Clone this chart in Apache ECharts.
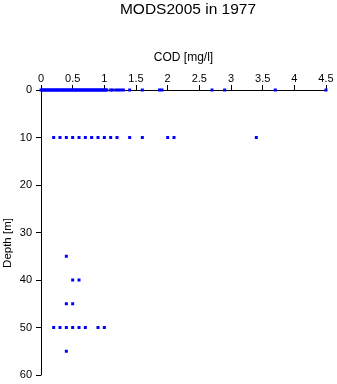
<!DOCTYPE html>
<html><head><meta charset="utf-8">
<script src="https://cdn.jsdelivr.net/npm/echarts@6/dist/echarts.min.js"></script>
<style>html,body{margin:0;padding:0;background:#fff}#c{width:337px;height:384px}</style>
</head><body><div id="c"></div>
<script>
const titleText = "MODS2005 in 1977";
const xName = "COD [mg/l]";
const yName = "Depth [m]";
const xTicks = [0, 0.5, 1, 1.5, 2, 2.5, 3, 3.5, 4, 4.5];
const yTicks = [0, 10, 20, 30, 40, 50, 60];

const cod0 = [0, 0.02, 0.04, 0.06, 0.08, 0.1, 0.12, 0.14, 0.16, 0.18, 0.2, 0.22, 0.24, 0.26, 0.28, 0.3, 0.32, 0.34, 0.36, 0.38, 0.4, 0.42, 0.44, 0.46, 0.48, 0.5, 0.52, 0.54, 0.56, 0.58, 0.6, 0.62, 0.64, 0.66, 0.68, 0.7, 0.72, 0.74, 0.76, 0.78, 0.8, 0.82, 0.84, 0.86, 0.88, 0.9, 0.92, 0.94, 0.96, 0.98, 1.0, 1.02, 1.04, 1.1, 1.13, 1.18, 1.22, 1.26, 1.3, 1.4, 1.6, 1.87, 1.91, 2.7, 2.9, 3.7, 4.5];
const cod10 = [0.2, 0.3, 0.4, 0.5, 0.6, 0.7, 0.8, 0.9, 1.0, 1.1, 1.2, 1.4, 1.6, 2.0, 2.1, 3.4];
const cod35 = [0.4];
const cod40 = [0.5, 0.6];
const cod45 = [0.4, 0.5];
const cod50 = [0.2, 0.3, 0.4, 0.5, 0.6, 0.7, 0.9, 1.0];
const cod55 = [0.4];
const depths = [0, 10, 35, 40, 45, 50, 55];
const codByDepth = [cod0, cod10, cod35, cod40, cod45, cod50, cod55];

const pts = [];
codByDepth.forEach((arr, i) => arr.forEach(v => pts.push([v, depths[i]])));

const font = "'Liberation Sans', Arial, sans-serif";
const chart = echarts.init(document.getElementById('c'));
chart.setOption({
  animation: false,
  title: { text: titleText, left: 183, textAlign: 'center', top: -3,
    textStyle: { fontFamily: font, fontSize: 15.5, fontWeight: 'normal', color: '#000' } },
  grid: { left: 41, top: 90, right: 11, bottom: 9, containLabel: false, outerBoundsMode: 'none' },
  graphic: [{
    type: 'text', x: 8, y: 243, rotation: Math.PI / 2,
    style: { text: yName, fontFamily: font, fontSize: 11.5, fill: '#000', align: 'center', verticalAlign: 'middle' }
  }],
  xAxis: {
    type: 'value', position: 'top', min: xTicks[0], max: xTicks[xTicks.length-1], interval: 0.5,
    name: xName, nameLocation: 'middle', nameGap: 26,
    nameTextStyle: { fontFamily: font, fontSize: 12, color: '#000' },
    axisLine: { show: true, onZero: false, lineStyle: { color: '#000', width: 1 } },
    axisTick: { show: true, inside: false, length: 5, lineStyle: { color: '#000' } },
    axisLabel: { fontFamily: font, fontSize: 11, color: '#000', margin: 6, showMinLabel: true, showMaxLabel: true },
    splitLine: { show: false }
  },
  yAxis: {
    type: 'value', inverse: true, min: yTicks[0], max: yTicks[yTicks.length-1], interval: 10,
    axisLine: { show: true, onZero: false, lineStyle: { color: '#000', width: 1 } },
    axisTick: { show: true, inside: false, length: 5, lineStyle: { color: '#000' } },
    axisLabel: { fontFamily: font, fontSize: 11, color: '#000', margin: 9, showMinLabel: true, showMaxLabel: true },
    splitLine: { show: false }
  },
  series: [{
    type: 'scatter', data: pts, symbol: 'rect', symbolSize: 3,
    itemStyle: { color: '#0000ff', opacity: 1 }, clip: false
  }]
});
</script></body></html>
